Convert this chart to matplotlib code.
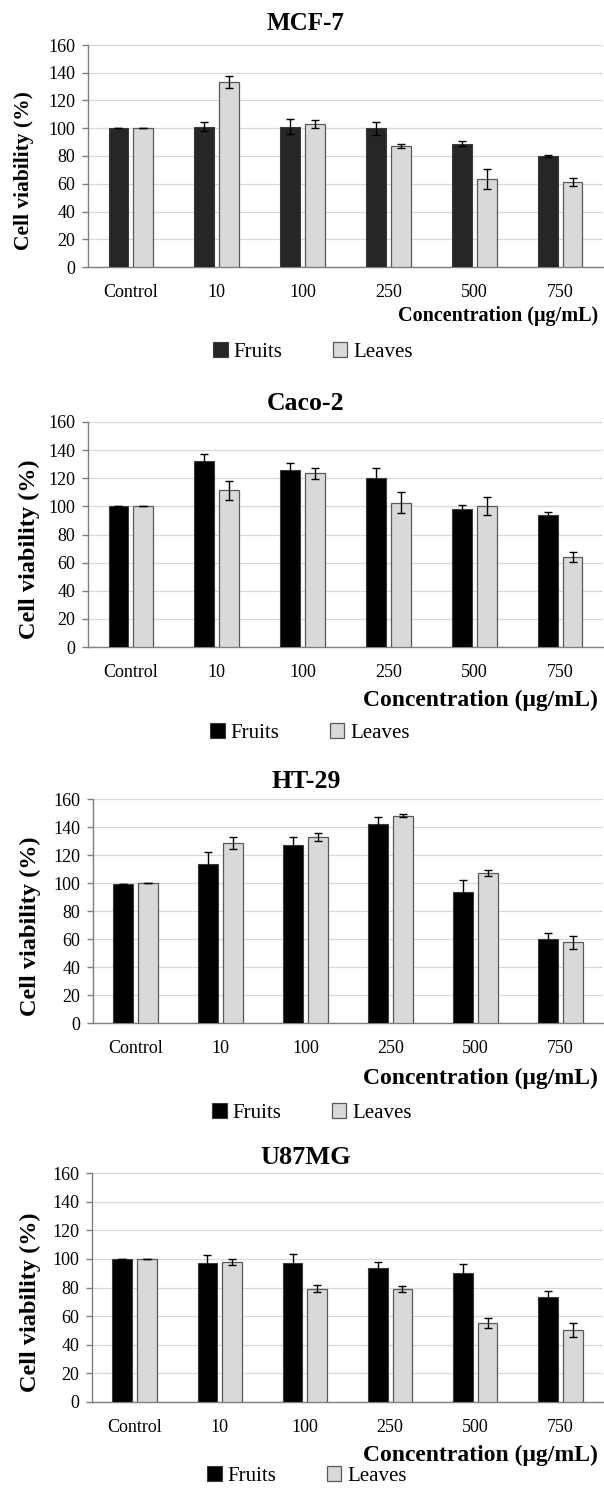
import matplotlib
matplotlib.use('Agg')
import matplotlib.pyplot as plt
from matplotlib.patches import Patch
import numpy as np

plt.rcParams['font.family'] = ['Liberation Serif', 'DejaVu Serif']

categories = ['Control', '10', '100', '250', '500', '750']
series_names = ['Fruits', 'Leaves']
panel_titles = ['MCF-7', 'Caco-2', 'HT-29', 'U87MG']

mcf7_fruits = [100, 101, 101, 100, 89, 80]
mcf7_fruits_err = [0, 3.3, 5.5, 4.6, 1.7, 0.7]
mcf7_leaves = [100, 133, 103, 87, 63.5, 61]
mcf7_leaves_err = [0, 4.3, 2.6, 1.5, 7.0, 2.9]

caco2_fruits = [100, 132.5, 126, 120.5, 98, 94]
caco2_fruits_err = [0, 4.5, 4.7, 6.6, 3.3, 1.7]
caco2_leaves = [100, 111.3, 123.4, 102.6, 100, 64]
caco2_leaves_err = [0, 6.9, 3.8, 7.3, 6.4, 3.5]

ht29_fruits = [99.5, 113.5, 127, 142, 93.7, 60]
ht29_fruits_err = [0, 8.3, 5.9, 5.0, 8.1, 4.0]
ht29_leaves = [100, 128.6, 133, 148, 107.2, 57.8]
ht29_leaves_err = [0, 4.3, 2.9, 1.1, 2.4, 4.7]

u87_fruits = [100, 97.4, 97.4, 93.7, 89.8, 73.5]
u87_fruits_err = [0, 5.1, 5.8, 4.2, 6.3, 4.4]
u87_leaves = [100, 97.9, 79.3, 78.8, 55.1, 50.5]
u87_leaves_err = [0, 2.3, 2.1, 1.9, 3.3, 4.9]

panels = [
    (mcf7_fruits, mcf7_fruits_err, mcf7_leaves, mcf7_leaves_err),
    (caco2_fruits, caco2_fruits_err, caco2_leaves, caco2_leaves_err),
    (ht29_fruits, ht29_fruits_err, ht29_leaves, ht29_leaves_err),
    (u87_fruits, u87_fruits_err, u87_leaves, u87_leaves_err),
]

W, H = 604, 1490
fig = plt.figure(figsize=(W / 100, H / 100), dpi=100)
fig.patch.set_facecolor('white')

# pixel layout of each panel (axis box, title, labels, legend)
layout = [
    dict(left=88, top=45, bottom=267, title_y=24, xlab_y=316, leg_y=352, leg_x=313, ylab_x=24,
         title_fs=18, ylab_fs=15.5, xlab_fs=14.5, fruit_col='#262626'),
    dict(left=88, top=422, bottom=647, title_y=403, xlab_y=700, leg_y=733, leg_x=310, ylab_x=29,
         title_fs=18.5, ylab_fs=17.5, xlab_fs=17, fruit_col='#000000'),
    dict(left=93, top=799, bottom=1023, title_y=782, xlab_y=1078, leg_y=1113, leg_x=312, ylab_x=30,
         title_fs=18.5, ylab_fs=17.5, xlab_fs=17, fruit_col='#000000'),
    dict(left=92, top=1173, bottom=1402, title_y=1157, xlab_y=1455, leg_y=1476, leg_x=307, ylab_x=30,
         title_fs=19, ylab_fs=17.5, xlab_fs=17, fruit_col='#000000'),
]
right = 603

x = np.arange(len(categories))
bw = 0.23
off = 0.145

for (fr, fr_e, lv, lv_e), lay, title in zip(panels, layout, panel_titles):
    ax = fig.add_axes([lay['left'] / W, 1 - lay['bottom'] / H,
                       (right - lay['left']) / W, (lay['bottom'] - lay['top']) / H])
    ax.bar(x - off, fr, bw, yerr=fr_e, color=lay['fruit_col'], edgecolor='#3a3a3a', linewidth=0.8,
           capsize=3, error_kw=dict(elinewidth=1, capthick=1, ecolor='black'), zorder=3)
    ax.bar(x + off, lv, bw, yerr=lv_e, color='#d9d9d9', edgecolor='#595959', linewidth=0.9,
           capsize=3, error_kw=dict(elinewidth=1, capthick=1, ecolor='black'), zorder=3)
    ax.set_xlim(-0.5, 5.5)
    ax.set_ylim(0, 160)
    ax.set_yticks(range(0, 161, 20))
    ax.set_xticks(x)
    ax.set_xticklabels(categories)
    ax.yaxis.grid(True, color='#d9d9d9', linewidth=0.9, zorder=0)
    ax.set_axisbelow(True)
    for s in ['top', 'right']:
        ax.spines[s].set_visible(False)
    for s in ['left', 'bottom']:
        ax.spines[s].set_color('#7f7f7f')
        ax.spines[s].set_linewidth(1.0)
    ax.tick_params(axis='y', length=4, width=1, color='#7f7f7f', pad=5, labelsize=13)
    ax.tick_params(axis='x', length=0, pad=12, labelsize=13)

    fig.text(306 / W, 1 - lay['title_y'] / H, title, ha='center', va='center',
             fontsize=lay['title_fs'], fontweight='bold')
    fig.text(lay['ylab_x'] / W, 1 - (lay['top'] + lay['bottom']) / 2 / H - 0.01,
             'Cell viability (%)', rotation=90, ha='center', va='center',
             fontsize=lay['ylab_fs'], fontweight='bold')
    fig.text(598 / W, 1 - lay['xlab_y'] / H, 'Concentration (μg/mL)', ha='right', va='center',
             fontsize=lay['xlab_fs'], fontweight='bold')

    handles = [Patch(facecolor=lay['fruit_col'], edgecolor='#3a3a3a', linewidth=0.8),
               Patch(facecolor='#d9d9d9', edgecolor='#595959', linewidth=0.9)]
    fig.legend(handles, series_names, loc='center', bbox_to_anchor=(lay['leg_x'] / W, 1 - lay['leg_y'] / H),
               ncol=2, frameon=False, fontsize=15, handlelength=0.7, handleheight=0.7,
               handletextpad=0.3, columnspacing=2.4, borderaxespad=0, borderpad=0)

fig.savefig('out.png', dpi=100, facecolor='white')
